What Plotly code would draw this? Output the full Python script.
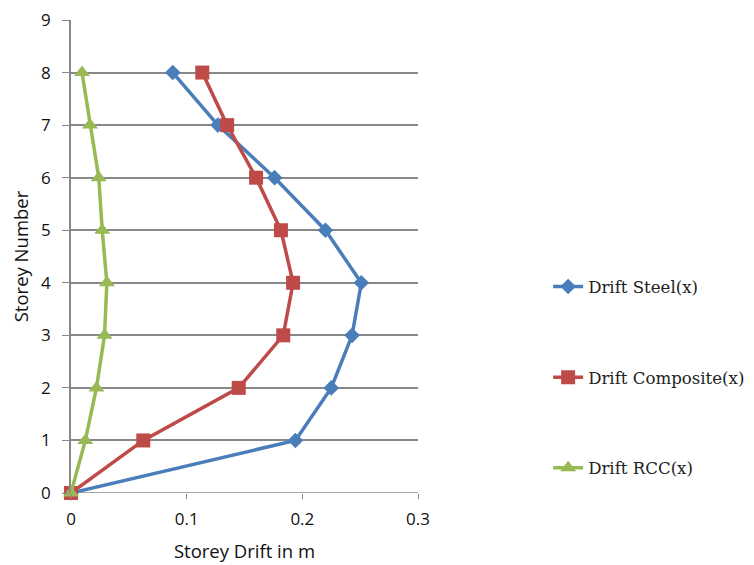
import plotly.graph_objects as go

storeys = [0, 1, 2, 3, 4, 5, 6, 7, 8]
drift_steel = [0.0, 0.194, 0.225, 0.243, 0.251, 0.220, 0.176, 0.127, 0.088]
drift_composite = [0.0, 0.0625, 0.145, 0.1835, 0.192, 0.1815, 0.160, 0.135, 0.1135]
drift_rcc = [0.0, 0.0124, 0.022, 0.029, 0.031, 0.027, 0.024, 0.0164, 0.0095]
y_ticks = [0, 1, 2, 3, 4, 5, 6, 7, 8, 9]
x_ticks = [0, 0.1, 0.2, 0.3]
x_ticktext = ["0", "0.1", "0.2", "0.3"]

series = [
    ("Drift Steel(x)", drift_steel, "#4A7EBB", "diamond", 12),
    ("Drift Composite(x)", drift_composite, "#BE4B48", "square", 14),
    ("Drift RCC(x)", drift_rcc, "#98B954", "triangle-up", 14),
]

fig = go.Figure()
for i, (name, xs, color, sym, size) in enumerate(series):
    fig.add_trace(go.Scatter(
        x=xs, y=storeys, name=name, mode="lines+markers",
        line=dict(color=color, width=3.5),
        marker=dict(symbol=sym, size=size, color=color),
        legendgroup="g%d" % i,
        cliponaxis=False,
    ))

tick_font = dict(family="Open Sans", size=17, color="#111111")
title_font = dict(family="Open Sans", size=18.5, color="#111111")

fig.update_layout(
    width=754, height=565,
    margin=dict(l=63, r=344, t=12, b=80),
    paper_bgcolor="white", plot_bgcolor="white",
    showlegend=True,
    legend=dict(
        x=1.375, xanchor="left", y=0.473, yanchor="top",
        font=dict(family="DejaVu Serif", size=16.6, color="#222222"),
        tracegroupgap=66, bgcolor="rgba(0,0,0,0)",
    ),
    xaxis=dict(
        range=[0, 0.3], tickvals=x_ticks, ticktext=x_ticktext,
        showgrid=False, zeroline=False,
        showline=False, ticks="outside", ticklen=5, tickcolor="#888888",
        ticklabelstandoff=6, ticklabeloverflow="allow",
        tickfont=tick_font, automargin=False,
        title=dict(text="Storey Drift in m", font=title_font, standoff=15),
    ),
    yaxis=dict(
        range=[0, 9.0001], tickvals=y_ticks,
        showgrid=True, gridcolor="#888888", gridwidth=1.5, zeroline=False,
        showline=True, linecolor="#888888", linewidth=1.5,
        ticks="outside", ticklen=7, tickcolor="#888888",
        ticklabelstandoff=8, ticklabeloverflow="allow",
        tickfont=tick_font, automargin=False,
        title=dict(text="Storey Number", font=title_font, standoff=10),
    ),
)
fig.add_hline(y=0, line=dict(color="#888888", width=1.5), layer="below")

fig.write_html("out.html")
